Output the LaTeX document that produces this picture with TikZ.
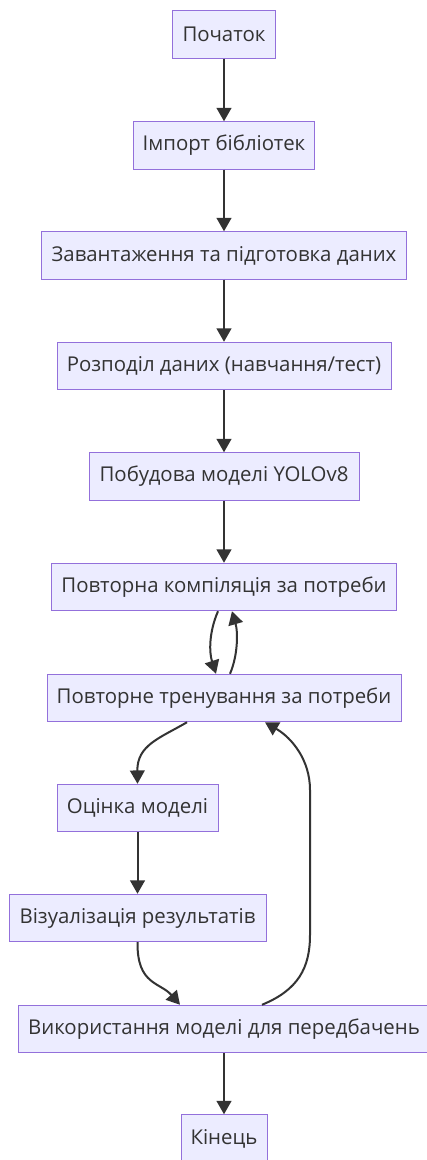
\documentclass[tikz,border=0pt]{standalone}
\usepackage{fontspec}
\setmainfont{Open Sans}
\usetikzlibrary{arrows.meta}
\definecolor{boxfill}{HTML}{ECECFF}
\definecolor{boxline}{HTML}{9370DB}
\definecolor{ink}{HTML}{333333}
\tikzset{
  flowbox/.style={draw=boxline, fill=boxfill, line width=0.75pt, rectangle,
    minimum height=35.6pt, inner sep=0pt, text=ink,
    font=\fontsize{15.3}{18}\selectfont},
  conn/.style={draw=ink, line width=1.5pt,
    -{Triangle[length=10pt, width=11pt]}}
}
\begin{document}
\begin{tikzpicture}[x=0.75pt, y=-0.75pt]
\fill[white] (0,0) rectangle (427,1160);
\useasboundingbox (0,0) rectangle (427,1160);
\node[flowbox, minimum width=77.25pt] (n1) at (224,34.5) {Початок};
\node[flowbox, minimum width=135.75pt] (n2) at (224,145.5) {Імпорт бібліотек};
\node[flowbox, minimum width=273.75pt] (n3) at (224,255.5) {Завантаження та підготовка даних};
\node[flowbox, minimum width=250.5pt] (n4) at (224,366) {Розподіл даних (навчання/тест)};
\node[flowbox, minimum width=202.5pt] (n5) at (224,476.5) {Побудова моделі YOLOv8};
\node[flowbox, minimum width=258.75pt] (n6) at (224,587) {Повторна компіляція за потреби};
\node[flowbox, minimum width=265.5pt] (n7) at (224,698) {Повторне тренування за потреби};
\node[flowbox, minimum width=120.75pt] (n8) at (137.5,808) {Оцінка моделі};
\node[flowbox, minimum width=192.75pt] (n9) at (137.5,918) {Візуалізація результатів};
\node[flowbox, minimum width=309pt] (n10) at (224,1029) {Використання моделі для передбачень};
\node[flowbox, minimum width=64.5pt] (n11) at (224,1138.5) {Кінець};

\draw[conn] (n1) -- (n2);
\draw[conn] (n2) -- (n3);
\draw[conn] (n3) -- (n4);
\draw[conn] (n4) -- (n5);
\draw[conn] (n5) -- (n6);
\draw[conn] ([xshift=-4.5pt]n6.south) .. controls (209,632) and (209,652) .. ([xshift=-6pt]n7.north);
\draw[conn] ([xshift=4.5pt]n7.north) .. controls (238,655) and (238,632) .. ([xshift=6pt]n6.south);
\draw[conn] ([xshift=-27.75pt]n7.south) .. controls (160,738) and (137,745) .. (n8.north);
\draw[conn] (n8) -- (n9);
\draw[conn] (n9.south) .. controls (137,985) and (160,982) .. ([xshift=-33pt]n10.north);
\draw[conn] ([xshift=28.5pt]n10.north) .. controls (298,990) and (310,968) .. (310,935)
   -- (310,790) .. controls (310,760) and (292,738) .. ([xshift=30.75pt]n7.south);
\draw[conn] (n10) -- (n11);
\end{tikzpicture}
\end{document}
